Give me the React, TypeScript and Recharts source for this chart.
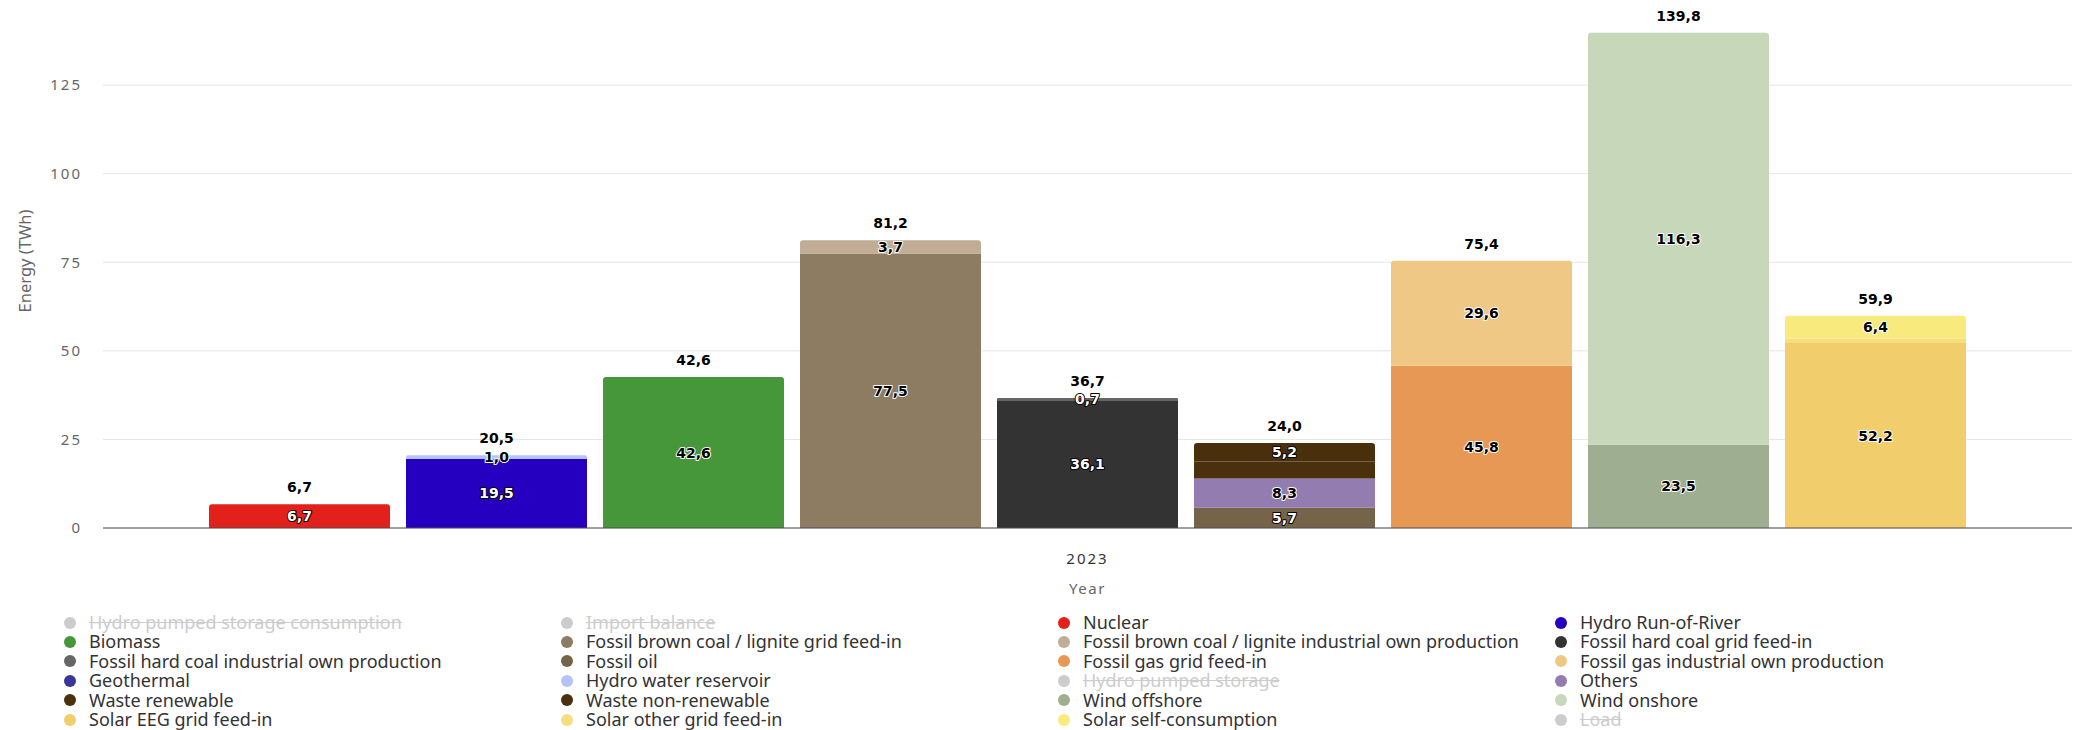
import { BarChart, Bar, XAxis, YAxis, CartesianGrid, LabelList } from "recharts";

// one category on the x axis
const YEARS = ["2023"];

// series in legend order (row by row, 4 columns)
const SERIES = [
  "Hydro pumped storage consumption",
  "Import balance",
  "Nuclear",
  "Hydro Run-of-River",
  "Biomass",
  "Fossil brown coal / lignite grid feed-in",
  "Fossil brown coal / lignite industrial own production",
  "Fossil hard coal grid feed-in",
  "Fossil hard coal industrial own production",
  "Fossil oil",
  "Fossil gas grid feed-in",
  "Fossil gas industrial own production",
  "Geothermal",
  "Hydro water reservoir",
  "Hydro pumped storage",
  "Others",
  "Waste renewable",
  "Waste non-renewable",
  "Wind offshore",
  "Wind onshore",
  "Solar EEG grid feed-in",
  "Solar other grid feed-in",
  "Solar self-consumption",
  "Load",
];

// which column each series is stacked into
const STACK_OF = [
  "", "", "nuclear", "hydro", "biomass", "lignite", "lignite", "hardcoal",
  "hardcoal", "other", "gas", "gas", "other", "hydro", "", "other",
  "other", "other", "wind", "wind", "solar", "solar", "solar", "",
];

// TWh in 2023 (null = switched off in the legend)
const VALUES_2023: (number | null)[] = [
  null, null, 6.7, 19.5, 42.6, 77.5, 3.7, 36.06,
  0.66, 5.7, 45.8, 29.6, 0, 1.0, null, 8.3,
  4.8, 5.2, 23.5, 116.3, 52.2, 1.3, 6.4, null,
];

const COLORS = [
  "#cccccc", "#cccccc", "#e2211c", "#2600c1", "#46963a", "#8d7b62", "#c1ad95", "#333333",
  "#666666", "#76644a", "#e79855", "#f0c885", "#3a3596", "#b4c4fb", "#cccccc", "#937db0",
  "#4b300e", "#4a2f0d", "#9eae90", "#c7d7b9", "#f1cd6c", "#f5de80", "#f8ea7c", "#cccccc",
];

const HIDDEN = ["Hydro pumped storage consumption", "Import balance", "Hydro pumped storage", "Load"];
const NO_INNER_LABEL = ["Waste renewable", "Solar other grid feed-in"];

const Y_TICKS = [0, 25, 50, 75, 100, 125];
const Y_MAX = 140;

const data = YEARS.map((year) => {
  const row: Record<string, string | number> = { year };
  VALUES_2023.forEach((v, i) => {
    if (v != null) row[`s${i}`] = v;
  });
  return row;
});

const fmt = (v: number) => v.toFixed(1).replace(".", ",");

function contrast(hex: string) {
  const c = [1, 3, 5].map((p) => {
    const v = parseInt(hex.slice(p, p + 2), 16) / 255;
    return v <= 0.03928 ? v / 12.92 : Math.pow((v + 0.055) / 1.055, 2.4);
  });
  const l = 0.2126 * c[0] + 0.7152 * c[1] + 0.0722 * c[2];
  return 1.05 / (l + 0.05) > (l + 0.05) / 0.05 ? "#ffffff" : "#000000";
}

const visible = SERIES.map((name, i) => i).filter(
  (i) => !HIDDEN.includes(SERIES[i]) && (VALUES_2023[i] ?? 0) > 0
);

const stackTop: Record<string, number> = {};
const stackTotal: Record<string, number> = {};
visible.forEach((i) => {
  stackTop[STACK_OF[i]] = i;
  stackTotal[STACK_OF[i]] = (stackTotal[STACK_OF[i]] ?? 0) + (VALUES_2023[i] ?? 0);
});

const labelFont = { fontFamily: "DejaVu Sans", fontWeight: 700, fontSize: 14 };
const axisFont = { fontFamily: "Noto Sans", fontSize: 15, letterSpacing: 2 };

function box(props: any) {
  const vb = props.viewBox ?? {};
  return {
    x: Number(props.x ?? vb.x),
    y: Number(props.y ?? vb.y),
    w: Number(props.width ?? vb.width),
    h: Number(props.height ?? vb.height),
  };
}

function InnerLabel(props: any) {
  const { x, y, w, h } = box(props);
  const fill = contrast(props.color);
  return (
    <text
      x={x + w / 2}
      y={y + h / 2}
      textAnchor="middle"
      dominantBaseline="central"
      fill={fill}
      stroke={fill === "#ffffff" ? "#000000" : "#ffffff"}
      strokeWidth={2}
      strokeLinejoin="round"
      paintOrder="stroke"
      {...labelFont}
    >
      {fmt(props.own)}
    </text>
  );
}

function TotalLabel(props: any) {
  const { x, y, w } = box(props);
  return (
    <text x={x + w / 2} y={y - 17} textAnchor="middle" dominantBaseline="central" fill="#000000" {...labelFont}>
      {fmt(props.total)}
    </text>
  );
}

function YTitle() {
  return (
    <text
      x={24}
      y={261}
      transform="rotate(-90 24 261)"
      textAnchor="middle"
      dominantBaseline="central"
      fill="#666666"
      fontFamily="Noto Sans"
      fontSize={16.5}
    >
      Energy (TWh)
    </text>
  );
}

export default function App() {
  return (
    <div style={{ position: "absolute", left: 0, top: 0, width: 2080, height: 730, background: "#ffffff" }}>
      <BarChart
        width={2080}
        height={730}
        data={data}
        margin={{ top: 32, right: 8, left: 0, bottom: 122 }}
        barSize={181}
        barGap={16}
      >
        <CartesianGrid
          vertical={false}
          stroke="#e6e6e6"
          horizontalCoordinatesGenerator={({ offset }: any) =>
            Y_TICKS.map((t) => offset.top + offset.height * (1 - t / Y_MAX))
          }
        />
        <XAxis
          dataKey="year"
          height={80}
          tickSize={0}
          tickMargin={25}
          tickLine={false}
          axisLine={{ stroke: "#4d4d4d" }}
          tick={{ ...axisFont, fill: "#333333" }}
          label={{ value: "Year", position: "insideTop", offset: 55, fill: "#666666", ...axisFont, letterSpacing: 1.5 }}
        />
        <YAxis
          width={103}
          domain={[0, Y_MAX]}
          ticks={Y_TICKS}
          tickSize={0}
          tickMargin={21}
          axisLine={false}
          tickLine={false}
          tick={{ ...axisFont, fill: "#666666" }}
          label={<YTitle />}
        />
        {visible.map((i) => {
          const stack = STACK_OF[i];
          const isTop = stackTop[stack] === i;
          return (
            <Bar
              key={SERIES[i]}
              dataKey={`s${i}`}
              name={SERIES[i]}
              stackId={stack}
              fill={COLORS[i]}
              radius={isTop ? [3, 3, 0, 0] : 0}
              isAnimationActive={false}
            >
              {!NO_INNER_LABEL.includes(SERIES[i]) && (
                <LabelList
                  content={(p: any) => <InnerLabel {...p} color={COLORS[i]} own={VALUES_2023[i]} />}
                />
              )}
              {isTop && (
                <LabelList content={(p: any) => <TotalLabel {...p} total={stackTotal[stack]} />} />
              )}
            </Bar>
          );
        })}
      </BarChart>
      <div
        style={{
          position: "absolute",
          left: 64,
          top: 613,
          display: "grid",
          gridTemplateColumns: "repeat(4, 497px)",
          gridAutoRows: "19.4px",
          fontFamily: "Noto Sans",
          fontSize: 18,
        }}
      >
        {SERIES.map((name, i) => {
          const off = HIDDEN.includes(name);
          return (
            <div key={name} style={{ display: "flex", alignItems: "center", whiteSpace: "nowrap", height: 19.4 }}>
              <span
                style={{
                  display: "inline-block",
                  width: 12,
                  height: 12,
                  borderRadius: "50%",
                  background: off ? "#cccccc" : COLORS[i],
                  marginRight: 13,
                }}
              />
              <span style={{ color: off ? "#cccccc" : "#333333", textDecoration: off ? "line-through" : "none", lineHeight: "19.4px" }}>
                {name}
              </span>
            </div>
          );
        })}
      </div>
    </div>
  );
}
